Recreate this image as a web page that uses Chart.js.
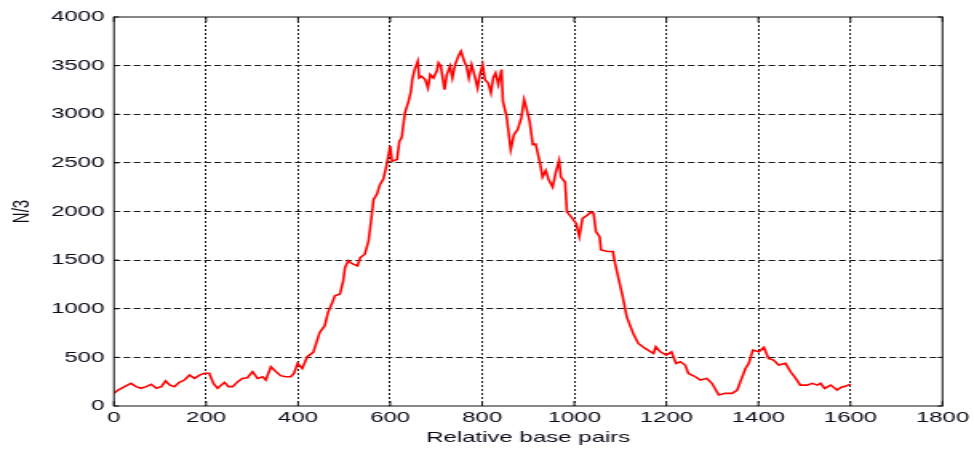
<!DOCTYPE html>
<html>
<head>
<meta charset="utf-8">
<script src="https://cdn.jsdelivr.net/npm/chart.js@4/dist/chart.umd.min.js"></script>
<style>
  html, body { margin: 0; padding: 0; background: #fff; overflow: hidden; }
  /* the figure is drawn narrow and widened horizontally, like the stretched original plot */
  #wrap { width: 609px; height: 451px; transform: scaleX(1.5993); transform-origin: 0 0; }
</style>
</head>
<body>
<div id="wrap"><canvas id="c" width="609" height="451"></canvas></div>
<script>
// Position along the sequence (relative base pairs)
const basePairs = [
  0, 9, 23, 37, 48, 59, 70, 81, 92, 103,
  112, 121, 131, 142, 153, 164, 175, 186, 196, 207,
  216, 225, 240, 249, 258, 269, 279, 290, 301, 312,
  323, 330, 341, 352, 362, 373, 384, 391, 399, 409,
  420, 433, 440, 447, 458, 465, 473, 480, 491, 498,
  502, 509, 515, 520, 529, 535, 545, 553, 558, 564,
  571, 578, 585, 591, 596, 600, 604, 615, 620, 625,
  632, 640, 645, 648, 653, 660, 663, 668, 676, 682,
  687, 694, 701, 705, 710, 718, 723, 730, 735, 741,
  748, 754, 761, 766, 771, 777, 784, 790, 795, 801,
  806, 813, 819, 824, 829, 835, 842, 845, 853, 862,
  869, 877, 885, 891, 896, 903, 910, 916, 926, 931,
  938, 945, 953, 960, 967, 971, 980, 984, 993, 1004,
  1011, 1018, 1029, 1036, 1042, 1047, 1055, 1058, 1073, 1084,
  1087, 1095, 1104, 1114, 1128, 1139, 1154, 1172, 1177, 1187,
  1200, 1211, 1221, 1230, 1241, 1248, 1263, 1274, 1288, 1299,
  1314, 1328, 1343, 1354, 1361, 1372, 1379, 1388, 1401, 1412,
  1422, 1433, 1444, 1459, 1470, 1481, 1491, 1506, 1517, 1528,
  1535, 1544, 1557, 1571, 1579, 1590, 1600
];

// N/3 value at each position
const n3Values = [
  130, 164, 199, 233, 199, 182, 199, 223, 182, 199,
  257, 216, 199, 243, 267, 318, 284, 318, 336, 336,
  233, 182, 243, 199, 199, 250, 284, 291, 353, 284,
  301, 267, 404, 353, 312, 301, 301, 336, 438, 387,
  507, 552, 654, 757, 826, 963, 1048, 1134, 1151, 1287,
  1424, 1493, 1470, 1458, 1441, 1527, 1561, 1698, 1886, 2125,
  2176, 2279, 2330, 2450, 2570, 2672, 2518, 2535, 2723, 2758,
  3014, 3134, 3236, 3356, 3459, 3545, 3373, 3390, 3356, 3271,
  3408, 3373, 3442, 3527, 3493, 3253, 3408, 3493, 3373, 3510,
  3596, 3647, 3545, 3493, 3373, 3510, 3390, 3271, 3408, 3510,
  3356, 3322, 3219, 3373, 3425, 3305, 3459, 3134, 2979, 2637,
  2791, 2842, 2962, 3151, 3065, 2928, 2688, 2694, 2490, 2354,
  2422, 2320, 2252, 2405, 2524, 2354, 2303, 1997, 1946, 1878,
  1741, 1929, 1963, 1997, 1980, 1793, 1741, 1605, 1588, 1588,
  1503, 1333, 1150, 917, 746, 643, 592, 540, 609, 557,
  523, 557, 438, 455, 421, 335, 301, 267, 284, 233,
  113, 130, 130, 164, 250, 386, 438, 575, 557, 602,
  489, 472, 421, 438, 352, 284, 215, 215, 233, 215,
  233, 181, 215, 164, 191, 205, 225
];

// Axis tick values
const xTicks = [0, 200, 400, 600, 800, 1000, 1200, 1400, 1600, 1800];
const yTicks = [0, 500, 1000, 1500, 2000, 2500, 3000, 3500, 4000];

const points = basePairs.map((bp, i) => ({ x: bp, y: n3Values[i] }));

const FONT = { family: '"Liberation Sans", Arial, Helvetica, sans-serif', size: 15 };
const TEXT = '#0c0c18';
const GRID = '#1a1a1a';

// Box round the plot area with short inward tick marks on all four sides
const framePlugin = {
  id: 'frame',
  afterDraw(chart) {
    const { ctx, chartArea: a, scales } = chart;
    ctx.save();
    ctx.strokeStyle = '#111';
    ctx.lineWidth = 1;
    ctx.setLineDash([]);
    ctx.strokeRect(a.left, a.top, a.right - a.left, a.bottom - a.top);
    ctx.beginPath();
    xTicks.forEach(v => {
      const px = scales.x.getPixelForValue(v);
      ctx.moveTo(px, a.bottom); ctx.lineTo(px, a.bottom - 5);
      ctx.moveTo(px, a.top); ctx.lineTo(px, a.top + 5);
    });
    yTicks.forEach(v => {
      const py = scales.y.getPixelForValue(v);
      ctx.moveTo(a.left, py); ctx.lineTo(a.left + 3, py);
      ctx.moveTo(a.right, py); ctx.lineTo(a.right - 3, py);
    });
    ctx.stroke();
    ctx.restore();
  }
};

const edge = (list) => (ctx) => {
  const v = ctx.tick && ctx.tick.value;
  return (v === list[0] || v === list[list.length - 1]) ? 'rgba(0,0,0,0)' : GRID;
};

new Chart(document.getElementById('c'), {
  type: 'line',
  data: {
    datasets: [{
      data: points,
      borderColor: '#ff0000',
      borderWidth: 1.6,
      pointRadius: 0,
      tension: 0,
      fill: false
    }]
  },
  options: {
    responsive: false,
    animation: false,
    devicePixelRatio: 1,
    layout: { padding: { left: 0, top: 17, right: 17.75, bottom: 0 } },
    plugins: { legend: { display: false }, tooltip: { enabled: false } },
    scales: {
      x: {
        type: 'linear',
        min: 0,
        max: 1800,
        afterBuildTicks: (s) => { s.ticks = xTicks.map(v => ({ value: v })); },
        afterFit: (s) => { s.height = 45; },
        grid: { color: edge(xTicks), lineWidth: 1, drawTicks: false },
        border: { display: false, dash: [2, 2] },
        ticks: { color: TEXT, font: FONT, padding: 3, maxRotation: 0, autoSkip: false, callback: (v) => String(v) },
        title: { display: true, text: 'Relative base pairs', color: TEXT, font: FONT, padding: { top: 0, bottom: 4.5 } }
      },
      y: {
        type: 'linear',
        min: 0,
        max: 4000,
        afterBuildTicks: (s) => { s.ticks = yTicks.map(v => ({ value: v })); },
        afterFit: (s) => { s.width = 71.25; },
        grid: { color: edge(yTicks), lineWidth: 1, drawTicks: false },
        border: { display: false, dash: [4.2, 2.1] },
        ticks: { color: TEXT, font: FONT, padding: 6, autoSkip: false, callback: (v) => String(v) },
        title: { display: true, text: 'N/3', color: TEXT, font: FONT, padding: { top: 4.75, bottom: 0 } }
      }
    }
  },
  plugins: [framePlugin]
});
</script>
</body>
</html>
